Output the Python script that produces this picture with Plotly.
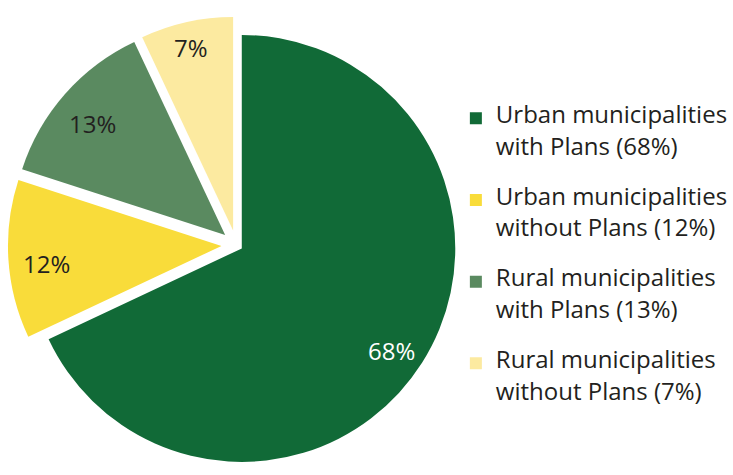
import math
import plotly.graph_objects as go

line1 = ["Urban municipalities", "Urban municipalities", "Rural municipalities", "Rural municipalities"]
line2 = ["with Plans (68%)", "without Plans (12%)", "with Plans (13%)", "without Plans (7%)"]
values = [68, 12, 13, 7]
colors = ["#116A37", "#F9DC3A", "#5A8A60", "#FCEAA0"]
text_colors = ["#FFFFFF", "#231F20", "#231F20", "#231F20"]
pulls = [0.03, 0.07, 0.07, 0.07]
label_r = [0.83, 0.82, 0.83, 0.90]   # label distance as a fraction of the radius

W, H = 733, 475
cx, cy = 238, 245          # pie centre (px)
half = H - cy              # half size of the pie domain (px)
LEG_PX = 24
LABEL_PX = 24
NB = "\u00a0"
legend_labels = [
    f'<span style="font-size:{LEG_PX}px">{a}</span><br>{NB}<br><span style="font-size:{LEG_PX}px">{b}</span><br>{NB}<br>{NB}'
    for a, b in zip(line1, line2)
]

fig = go.Figure(go.Pie(
    labels=legend_labels,
    values=values,
    sort=False,
    direction="clockwise",
    rotation=0,
    pull=pulls,
    marker=dict(colors=colors, line=dict(width=0)),
    textinfo="none",
    hoverinfo="percent",
    domain=dict(x=[(cx - half) / W, (cx + half) / W], y=[0, 2 * half / H]),
))

# slice labels placed along each slice's bisector (derived from the values)
r = half / (1 + max(pulls))
total = sum(values)
cum = 0
for v, p, lr, tc in zip(values, pulls, label_r, text_colors):
    mid = (cum + v / 2) / total * 2 * math.pi
    cum += v
    dx, dy = math.sin(mid), -math.cos(mid)
    d = (p + lr) * r
    px, py = cx + dx * d, cy + dy * d
    fig.add_annotation(
        x=px / W, y=1 - py / H, xref="paper", yref="paper",
        text=f"{v}%", showarrow=False, yshift=-6,
        font=dict(size=LABEL_PX, family="Open Sans", color=tc),
        xanchor="center", yanchor="middle",
    )

fig.update_layout(
    width=W, height=H,
    margin=dict(l=0, r=0, t=0, b=0),
    paper_bgcolor="white",
    plot_bgcolor="white",
    font=dict(family="Open Sans", color="#231F20"),
    showlegend=True,
    legend=dict(
        x=459 / W, xanchor="left",
        y=1 - 104 / H, yanchor="top",
        font=dict(size=12.1, family="Open Sans", color="#231F20"),
        valign="top",
        traceorder="normal",
        bgcolor="rgba(0,0,0,0)",
    ),
)

fig.write_html("out.html", config={"displayModeBar": False},
               post_script="document.body.style.margin='0px';")
